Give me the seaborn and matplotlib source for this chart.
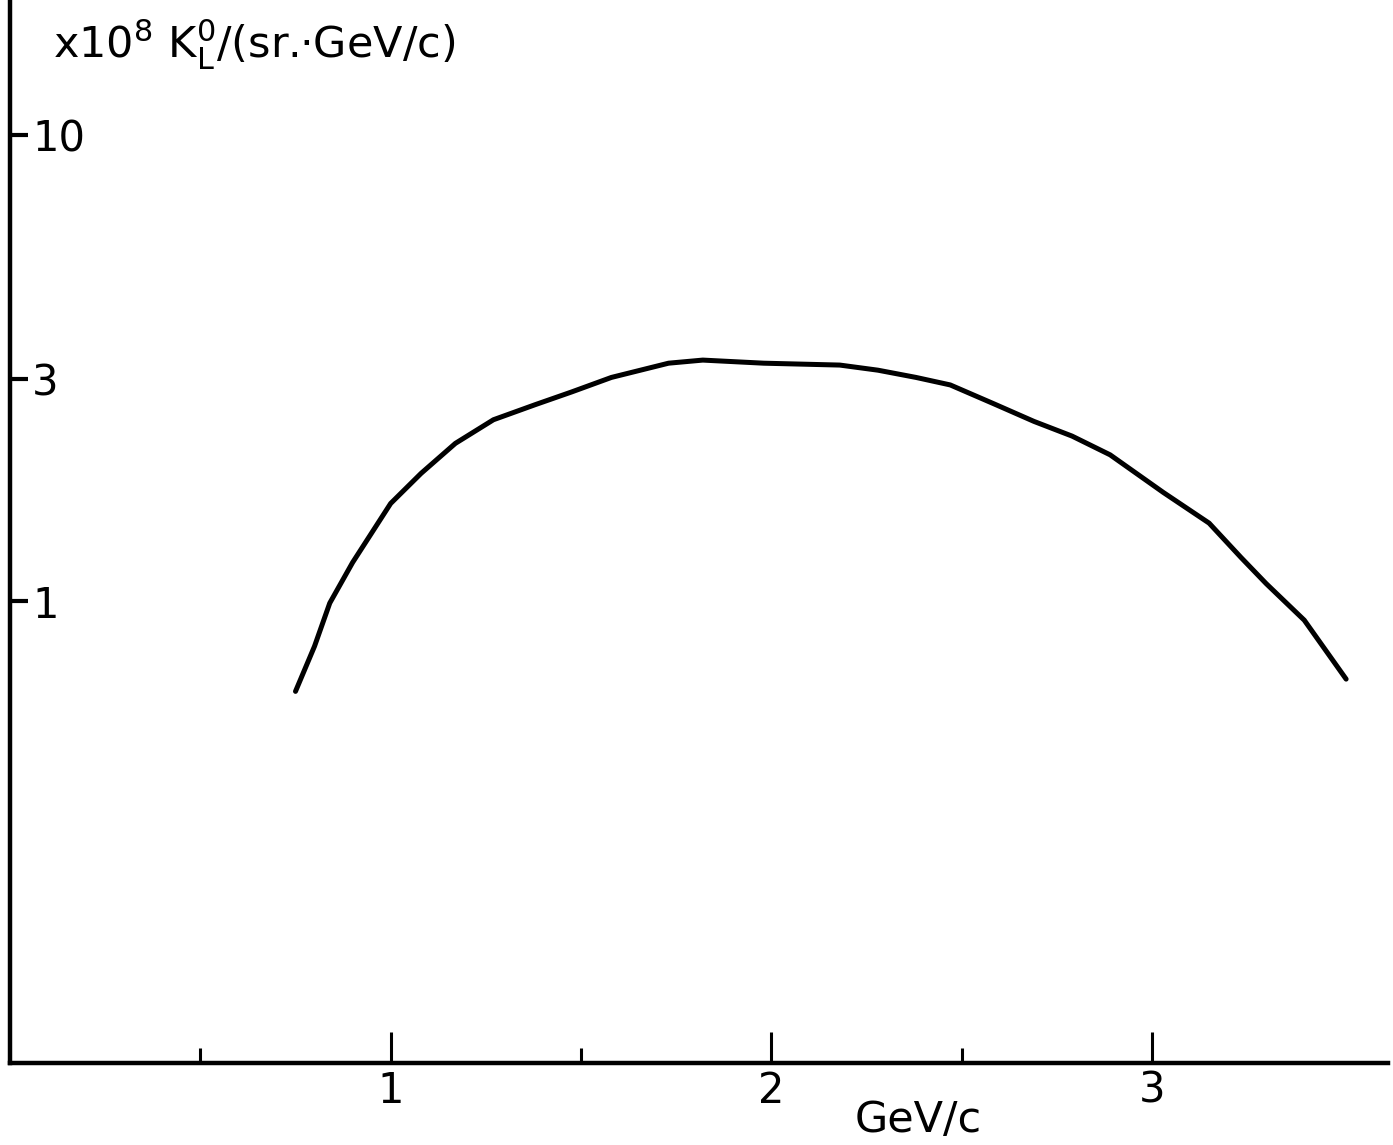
import matplotlib
matplotlib.use("Agg")
import matplotlib.pyplot as plt
import matplotlib.ticker as mticker
import seaborn as sns
import pandas as pd

# Data (momentum in GeV/c, flux x10^8 K_L^0/(sr.GeV/c))
momentum = [0.75, 0.80, 0.84, 0.90, 0.95, 1.00, 1.08, 1.17, 1.27, 1.38, 1.475,
            1.58, 1.73, 1.82, 1.98, 2.18, 2.28, 2.38, 2.47, 2.585, 2.69, 2.79,
            2.89, 3.03, 3.15, 3.234, 3.30, 3.40, 3.51]
flux = [0.64, 0.80, 0.99, 1.21, 1.40, 1.62, 1.88, 2.18, 2.45, 2.64, 2.81,
        3.02, 3.24, 3.29, 3.24, 3.21, 3.13, 3.02, 2.91, 2.65, 2.43, 2.26,
        2.06, 1.71, 1.47, 1.24, 1.09, 0.91, 0.68]
x_major = [1, 2, 3]
x_major_labels = ["1", "2", "3"]
x_minor = [0.5, 1.5, 2.5]
y_ticks = [1, 3, 10]
y_tick_labels = ["1", "3", "10"]
y_title = "x10$^{8}$ K$_{\\mathrm{L}}^{\\mathrm{0}}$/(sr.·GeV/c)"
x_title = "GeV/c"

sns.set_style("white")
plt.rcParams["font.family"] = ["DejaVu Sans"]

df = pd.DataFrame({"p": momentum, "flux": flux})

fig = plt.figure(figsize=(13.93, 11.45), dpi=100)
ax = fig.add_axes([10 / 1393, (1145 - 1063) / 1145, 1378 / 1393, 1063 / 1145])

sns.lineplot(data=df, x="p", y="flux", ax=ax, color="black", linewidth=3.6,
             solid_capstyle="round", solid_joinstyle="round", sort=True)

ax.set_yscale("log")
ax.set_xlim(0.0, 3.62)
ax.set_ylim(0.102, 19.5)

for side in ["top", "right"]:
    ax.spines[side].set_visible(False)
for side in ["left", "bottom"]:
    ax.spines[side].set_linewidth(3.2)
    ax.spines[side].set_color("black")

ax.set_xticks(x_major)
ax.set_xticklabels(x_major_labels)
ax.set_xticks(x_minor, minor=True)
ax.tick_params(axis="x", which="major", bottom=True, direction="in", length=22,
               width=2.2, pad=5, labelsize=30, colors="black")
ax.tick_params(axis="x", which="minor", bottom=True, direction="in", length=11,
               width=2.2, color="black")

ax.yaxis.set_minor_locator(mticker.NullLocator())
ax.set_yticks(y_ticks)
ax.set_yticklabels(y_tick_labels)
ax.tick_params(axis="y", which="major", left=True, direction="in", length=13,
               width=3, pad=-16, labelsize=30, colors="black")
for lab in ax.get_yticklabels():
    lab.set_horizontalalignment("left")

ax.set_xlabel("")
ax.set_ylabel("")
ax.text(0.031, 0.958, y_title, transform=ax.transAxes, fontsize=31,
        ha="left", va="center", color="black")
ax.text(0.659, -0.054, x_title, transform=ax.transAxes, fontsize=31,
        ha="center", va="center", color="black")

fig.savefig("out.png", dpi=100, facecolor="white")
